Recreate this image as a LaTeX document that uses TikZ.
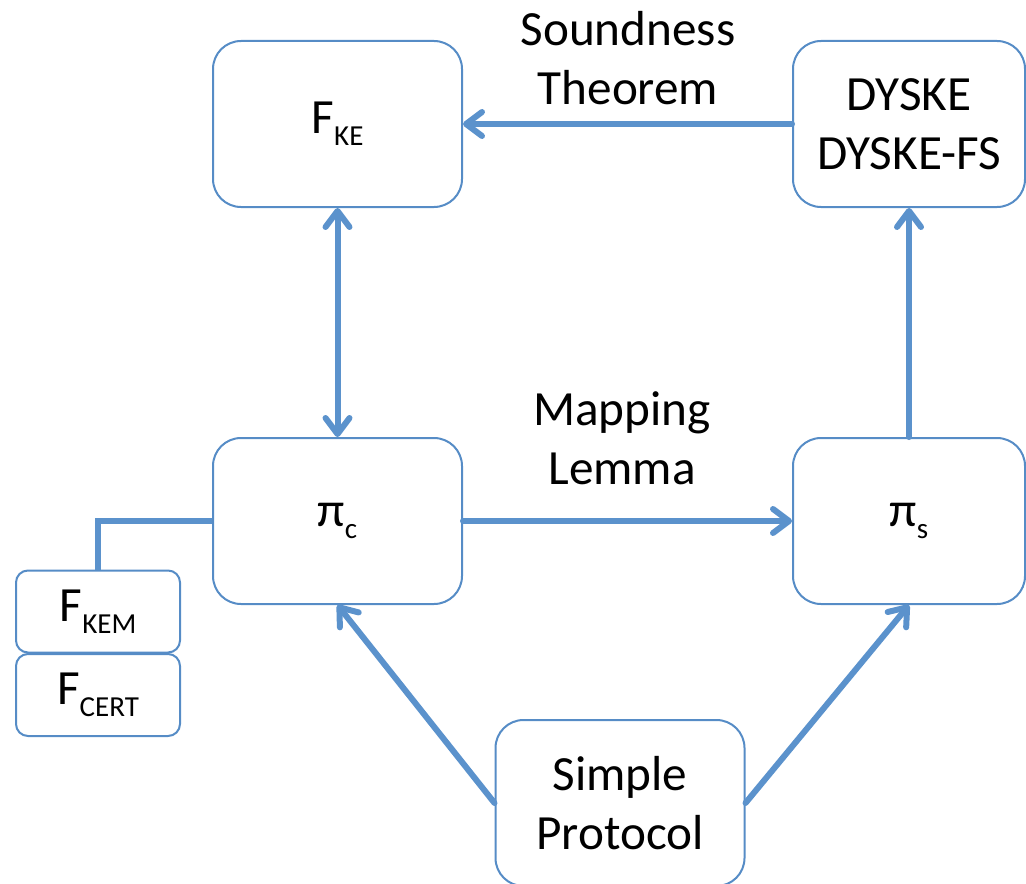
\documentclass[tikz,border=0pt]{standalone}
\usepackage{fontspec}
\setmainfont{Carlito}
\usetikzlibrary{arrows.meta}
\definecolor{linkblue}{RGB}{91,146,204}
\definecolor{boxblue}{RGB}{86,140,198}
\newcommand{\lowtext}[1]{\raisebox{-6pt}{\fontsize{14.5}{16}\selectfont #1}}
\tikzset{
  roundbox/.style={draw=boxblue,line width=1pt,rounded corners=14pt,align=center,
    minimum width=124.5pt,minimum height=83pt,font=\fontsize{24.6}{29.5}\selectfont},
  smallbox/.style={draw=boxblue,line width=1pt,rounded corners=6pt,align=center,
    minimum width=82pt,minimum height=41pt,font=\fontsize{24.6}{29.5}\selectfont},
  link/.style={draw=linkblue,line width=3pt,line cap=round,
    -{Straight Barb[round,length=8pt,width=12pt]}},
  note/.style={align=center,font=\fontsize{24.6}{29.5}\selectfont}
}

\begin{document}
\begin{tikzpicture}[x=0.5pt,y=-0.5pt]
    \useasboundingbox (0,0) rectangle (1026,883);
    % boxes
    \node[roundbox] (fke) at (337.5,124) {F\lowtext{KE}};
    \node[roundbox,minimum width=116pt] (dyske) at (909,124) {DYSKE\\DYSKE-FS};
    \node[roundbox] (pic) at (337.5,521) {π\lowtext{c}};
    \node[roundbox,minimum width=116pt] (pis) at (909,521) {π\lowtext{s}};
    \node[roundbox] (simple) at (620,803) {Simple\\Protocol};
    \node[smallbox] (fkem) at (98,611.5) {F\lowtext{KEM}};
    \node[smallbox] (fcert) at (98,695) {F\lowtext{CERT}};
    % texts on the arrows
    \node[note] (sound) at (628,58) {Soundness\\Theorem};
    \node[note] (mapping) at (622,438) {Mapping\\Lemma};
    % arrows
    \draw[link] (dyske) -- (fke);
    \draw[link,{Straight Barb[round,length=8pt,width=12pt]}-{Straight Barb[round,length=8pt,width=12pt]}] (fke) -- (pic);
    \draw[link] (pic) -- (pis);
    \draw[link] (pis) -- (dyske);
    \draw[link] (simple.west) -- (pic.south);
    \draw[link] (simple.east) -- (pis.south);
    \draw[draw=linkblue,line width=3pt,-] (pic.west) -| (fkem.north);
\end{tikzpicture}
\end{document}
